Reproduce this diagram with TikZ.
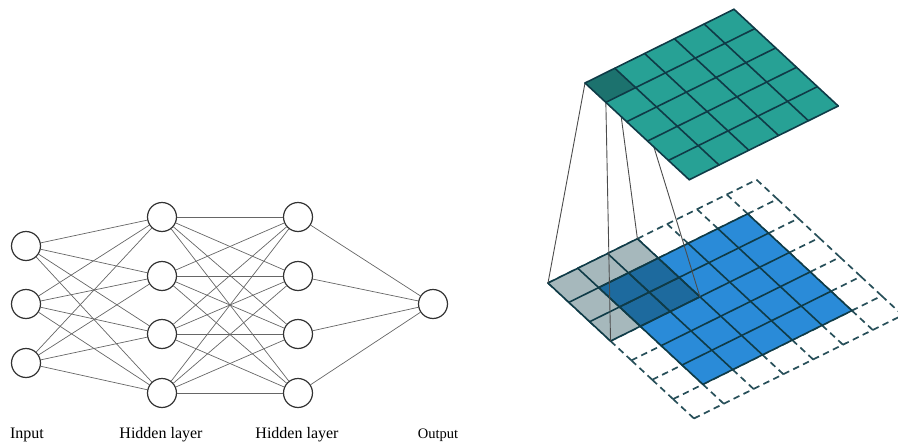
\documentclass[tikz,border=0pt]{standalone}
\usepackage{fontspec}
\setmainfont{Liberation Serif}
\definecolor{tealA}{HTML}{27A195}
\definecolor{tealD}{HTML}{1C726E}
\definecolor{blueA}{HTML}{2A8BD8}
\definecolor{blueD}{HTML}{1D6A9E}
\definecolor{kgray}{HTML}{A6B8BC}
\definecolor{gridc}{HTML}{0F3B47}
\begin{document}
\begin{tikzpicture}[x=1pt,y=-1pt,
  neuron/.style={circle,draw=black!80,line width=1.2pt,fill=white,minimum size=29pt,inner sep=0pt},
  wire/.style={draw=black!60,line width=0.7pt},
  lab/.style={anchor=base,font=\fontsize{16}{18}\selectfont},
  topgrid/.style={shift={(585,83)},x={(29.8pt,14.75pt)},y={(20.85pt,-19.35pt)}},
  botgrid/.style={shift={(548,283)},x={(29.8pt,14.75pt)},y={(20.85pt,-19.35pt)}},
  gridline/.style={draw=gridc,line width=1.6pt,line join=round,line cap=round},
  padline/.style={draw=gridc!90,line width=1.7pt,dash pattern=on 6.5pt off 4.5pt},
  proj/.style={draw=black!70,line width=0.9pt}]
\useasboundingbox (0,0) rectangle (898,442);

% ---------- left: fully connected network ----------
\node[neuron] (i1) at (26,246) {};
\node[neuron] (i2) at (26,304) {};
\node[neuron] (i3) at (26,363) {};
\node[neuron] (h1) at (162,217) {};
\node[neuron] (h2) at (162,276) {};
\node[neuron] (h3) at (162,334) {};
\node[neuron] (h4) at (162,393) {};
\node[neuron] (g1) at (298,217) {};
\node[neuron] (g2) at (298,276) {};
\node[neuron] (g3) at (298,334) {};
\node[neuron] (g4) at (298,393) {};
\node[neuron] (o1) at (433,304) {};

\foreach \a in {1,2,3} \foreach \b in {1,...,4} \draw[wire] (i\a) -- (h\b);
\foreach \a in {1,...,4} \foreach \b in {1,...,4} \draw[wire] (h\a) -- (g\b);
\foreach \a in {1,...,4} \draw[wire] (g\a) -- (o1);

\node[lab] (tin) at (27,438) {Input};
\node[lab] (th1) at (161,438) {Hidden layer};
\node[lab] (th2) at (297,438) {Hidden layer};
\node[lab,font=\fontsize{14.5}{16}\selectfont] (tout) at (438,438) {Output};

% ---------- right: convolution ----------
\begin{scope}[topgrid]
  \coordinate (dL) at (0,0);
  \coordinate (dT) at (1,0);
  \coordinate (dB) at (0,1);
  \coordinate (dR) at (1,1);
\end{scope}

\begin{scope}[botgrid]
  \foreach \i in {0,...,7} \foreach \j in {0,...,6} {
    \draw[padline] (\i,\j) -- (\i,\j+1);
    \draw[padline] (\j,\i) -- (\j+1,\i);
  }
  \fill[blueA] (1,1) -- (6,1) -- (6,6) -- (1,6) -- cycle;
  \fill[kgray] (0,0) -- (3,0) -- (3,3) -- (0,3) -- cycle;
  \fill[blueD] (1,1) -- (3,1) -- (3,3) -- (1,3) -- cycle;
  \foreach \k in {1,...,6} {
    \draw[gridline] (\k,1) -- (\k,6);
    \draw[gridline] (1,\k) -- (6,\k);
  }
  \foreach \k in {0,...,3} {
    \draw[gridline] (\k,0) -- (\k,3);
    \draw[gridline] (0,\k) -- (3,\k);
  }
  \coordinate (kL) at (0,0);
  \coordinate (kT) at (3,0);
  \coordinate (kB) at (0,3);
  \coordinate (kR) at (3,3);
\end{scope}

\draw[proj] (dL) -- (kL);
\draw[proj] (dT) -- (kT);
\draw[proj] (dB) -- (kB);
\draw[proj] (dR) -- (kR);

\begin{scope}[topgrid]
  \fill[tealA] (0,0) -- (5,0) -- (5,5) -- (0,5) -- cycle;
  \fill[tealD] (0,0) -- (1,0) -- (1,1) -- (0,1) -- cycle;
  \foreach \k in {0,...,5} {
    \draw[gridline] (\k,0) -- (\k,5);
    \draw[gridline] (0,\k) -- (5,\k);
  }
\end{scope}
\end{tikzpicture}
\end{document}
